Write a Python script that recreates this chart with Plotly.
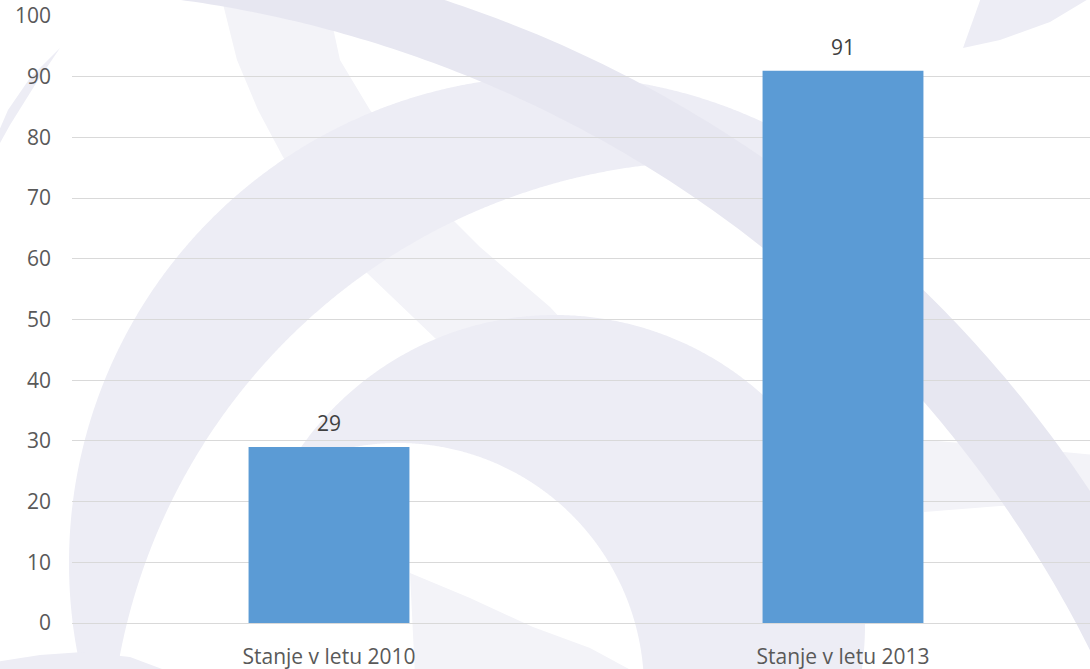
import math
import plotly.graph_objects as go

# ---- data ----
categories = ["Stanje v letu 2010", "Stanje v letu 2013"]
values = [29, 91]
y_ticks = [0, 10, 20, 30, 40, 50, 60, 70, 80, 90, 100]

# ---- layout geometry (pixels) ----
W, H = 1090, 669
L, T, B = 72, 16, 46
PW = W - L
PH = H - T - B
X_MAX = 1.5 - 10 / 514.0   # plot area clipped at the right edge

BAR_COLOR = "#5b9bd5"
DARK = "#e7e7f1"
MED = "#ededf5"
LIGHT = "#f3f3f8"


def P(px, py):
    return f"{(px - L) / PW:.5f},{(T + PH - py) / PH:.5f}"


def poly(points):
    return "M " + " L ".join(P(x, y) for x, y in points) + " Z"


def crescent(c1, r1, c2, r2, n=720):
    """Region inside circle 1 and outside circle 2 (pixel coordinates)."""
    dx, dy = c2[0] - c1[0], c2[1] - c1[1]
    d = math.hypot(dx, dy)
    a = (r1 * r1 - r2 * r2 + d * d) / (2 * d)
    phi = math.atan2(dy, dx)
    alpha = math.acos(max(-1, min(1, a / r1)))
    pts = []
    for i in range(n + 1):
        t = phi + alpha + (2 * math.pi - 2 * alpha) * i / n
        pts.append((c1[0] + r1 * math.cos(t), c1[1] + r1 * math.sin(t)))
    end = pts[-1]
    psi = phi + math.pi
    beta = math.acos(max(-1, min(1, (d - a) / r2)))
    inner = []
    for i in range(n + 1):
        t = psi - beta + 2 * beta * i / n
        inner.append((c2[0] + r2 * math.cos(t), c2[1] + r2 * math.sin(t)))
    if math.dist(inner[0], end) > math.dist(inner[-1], end):
        inner.reverse()
    # keep only points reasonably near the canvas
    allp = pts + inner
    clipped = [(min(max(x, -400), W + 400), min(max(y, -400), H + 400)) for x, y in allp]
    return poly(clipped)


watermark = [
    # light bands
    (poly([(218, -5), (222, 0), (237, 60), (258, 110), (283, 157), (320, 213),
           (367, 273), (437, 340), (480, 380), (590, 350), (550, 307), (480, 247),
           (453, 220), (410, 163), (370, 110), (340, 60), (327, 0), (326, -5)]), LIGHT),
    (poly([(410, 573), (470, 598), (533, 627), (590, 648), (640, 675), (415, 675)]), LIGHT),
    (poly([(924, 440), (1000, 446), (1095, 455), (1095, 502), (1000, 506), (924, 512)]), LIGHT),
    # medium bands
    (crescent((556, 563), 487, (718, 770), 609), MED),
    (crescent((555, 625), 310, (398, 689), 246), MED),
    (poly([(-5, 662), (40, 655), (83, 652), (130, 657), (178, 675), (-5, 675)]), MED),
    (poly([(982, -5), (963, 48), (1000, 40), (1050, 22), (1095, -5)]), MED),
    (poly([(60, 48), (30, 78), (8, 110), (-5, 140), (-5, 152), (10, 125), (35, 85)]), MED),
    # dark band
    (crescent((61, 1174), 1235, (19, 1187), 1198), DARK),
]

shapes = [
    dict(type="path", path=p, xref="paper", yref="paper", fillcolor=c,
         line=dict(width=0), layer="below")
    for p, c in watermark
]

fig = go.Figure()
fig.add_trace(go.Bar(
    x=categories, y=values, width=0.313,
    marker=dict(color=BAR_COLOR, line=dict(width=0)),
    hoverinfo="x+y",
))

annotations = [
    dict(x=c, y=v, xref="x", yref="y", text=str(v), showarrow=False,
         yanchor="middle", yshift=24,
         font=dict(family="Open Sans", size=21, color="#404040"))
    for c, v in zip(categories, values)
]

fig.update_layout(
    width=W, height=H,
    margin=dict(l=L, r=0, t=T, b=B, pad=0),
    paper_bgcolor="white",
    plot_bgcolor="rgba(0,0,0,0)",
    showlegend=False,
    shapes=shapes,
    annotations=annotations,
    font=dict(family="Open Sans", size=21, color="#595959"),
    xaxis=dict(
        type="category", range=[-0.5, X_MAX], showgrid=False, zeroline=False,
        showline=False, ticks="", ticklabelstandoff=19, fixedrange=True,
        tickfont=dict(family="Open Sans", size=21, color="#595959"),
    ),
    yaxis=dict(
        range=[0, 100], tickvals=y_ticks, showgrid=True, gridcolor="#d9d9d9",
        gridwidth=1, zeroline=True, zerolinecolor="#d9d9d9", zerolinewidth=1,
        showline=False, ticks="", ticklabelstandoff=20, fixedrange=True,
        tickfont=dict(family="Open Sans", size=21, color="#595959"),
    ),
)

fig.write_html(
    "out.html",
    config={"displayModeBar": False},
    post_script="document.body.style.margin='0px';document.body.style.overflow='hidden';",
)
